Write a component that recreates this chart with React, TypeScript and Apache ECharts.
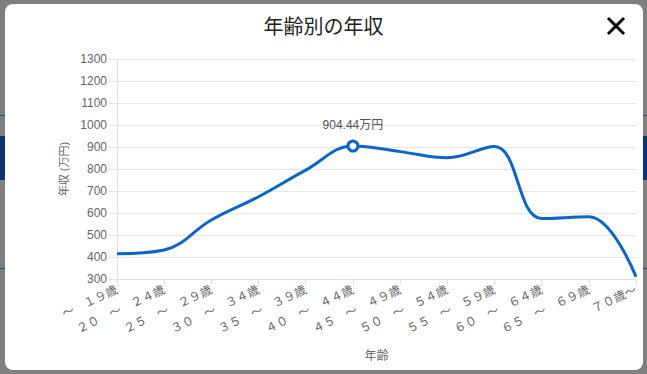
import React, { useEffect, useRef } from "react";
import * as echarts from "echarts";

const categories = [
  "〜　１９歳",
  "２０　〜　２４歳",
  "２５　〜　２９歳",
  "３０　〜　３４歳",
  "３５　〜　３９歳",
  "４０　〜　４４歳",
  "４５　〜　４９歳",
  "５０　〜　５４歳",
  "５５　〜　５９歳",
  "６０　〜　６４歳",
  "６５　〜　６９歳",
  "７０歳〜",
];
const incomes = [415, 432, 568, 674, 795, 904.44, 879, 851, 902, 575, 583, 310];
const highlightIndex = 5;
const yTicks = { min: 300, max: 1300, interval: 100 };

const FONT = "'Liberation Sans', 'Noto Sans CJK JP', sans-serif";

export default function App() {
  const ref = useRef<HTMLDivElement>(null);
  useEffect(() => {
    if (!ref.current) return;
    const chart = echarts.init(ref.current, null, { renderer: "svg" });
    const seriesData = incomes.map((v, i) =>
      i === highlightIndex
        ? {
            value: v,
            symbol: "circle",
            symbolSize: 10,
            itemStyle: { color: "#ffffff", borderColor: "#0a66cc", borderWidth: 3 },
            label: {
              show: true,
              position: "top",
              distance: 9,
              formatter: (p: any) => `${p.value}万円`,
              color: "#555",
              fontSize: 12,
              fontFamily: FONT,
            },
          }
        : { value: v, symbol: "none" }
    );
    chart.setOption({
      animation: false,
      title: {
        text: "年齢別の年収",
        left: "center",
        top: 12,
        textStyle: { fontSize: 20, fontWeight: "normal", color: "#222", fontFamily: FONT },
      },
      graphic: [
        { type: "line", shape: { x1: 608, y1: 18, x2: 624, y2: 34 }, style: { stroke: "#000", lineWidth: 3 } },
        { type: "line", shape: { x1: 624, y1: 18, x2: 608, y2: 34 }, style: { stroke: "#000", lineWidth: 3 } },
      ],
      grid: { left: 117, right: 11, top: 59, bottom: 95, containLabel: false },
      xAxis: {
        type: "category",
        data: categories,
        boundaryGap: false,
        name: "年齢",
        nameLocation: "middle",
        nameGap: 71,
        nameTextStyle: { color: "#666", fontSize: 12, fontFamily: FONT },
        axisLine: { lineStyle: { color: "#e0e0e0" } },
        axisTick: { show: true, length: 6, lineStyle: { color: "#e0e0e0" } },
        axisLabel: { rotate: 25, color: "#666", fontSize: 12, fontFamily: FONT, margin: 10, interval: 0 },
      },
      yAxis: {
        type: "value",
        min: yTicks.min,
        max: yTicks.max,
        interval: yTicks.interval,
        name: "年収 (万円)",
        nameLocation: "middle",
        nameRotate: 90,
        nameGap: 46,
        nameTextStyle: { color: "#666", fontSize: 11, fontFamily: FONT },
        axisLine: { show: true, lineStyle: { color: "#e0e0e0" } },
        axisTick: { show: true, length: 8, lineStyle: { color: "#e6e6e6" } },
        splitLine: { show: true, lineStyle: { color: "#e6e6e6" } },
        axisLabel: {
          color: "#666",
          fontSize: 12,
          fontFamily: FONT,
          margin: 10,
          formatter: (v: number) => String(v),
        },
      },
      series: [
        {
          type: "line",
          data: seriesData,
          smooth: 0.4,
          showSymbol: true,
          lineStyle: { color: "#0a66cc", width: 3 },
          itemStyle: { color: "#0a66cc" },
          emphasis: { disabled: true },
        },
      ],
    });
    return () => chart.dispose();
  }, []);

  const side = (x: number, w: number) => (
    <>
      <div style={{ position: "absolute", left: x, top: 136, width: w, height: 44, background: "#0a3470" }} />
      <div style={{ position: "absolute", left: x, top: 115, width: w, height: 1, background: "#1f4a8a" }} />
      <div style={{ position: "absolute", left: x, top: 268, width: w, height: 1, background: "#1f4a8a" }} />
    </>
  );

  return (
    <div style={{ position: "fixed", left: 0, top: 0, width: 647, height: 374, background: "#7f7f7f", overflow: "hidden" }}>
      {side(0, 5)}
      {side(643, 4)}
      <div
        style={{
          position: "absolute",
          left: 5,
          top: 4,
          width: 638,
          height: 366,
          background: "#ffffff",
          borderRadius: 8,
        }}
      />
      <div ref={ref} style={{ position: "absolute", left: 0, top: 0, width: 647, height: 374 }} />
    </div>
  );
}
